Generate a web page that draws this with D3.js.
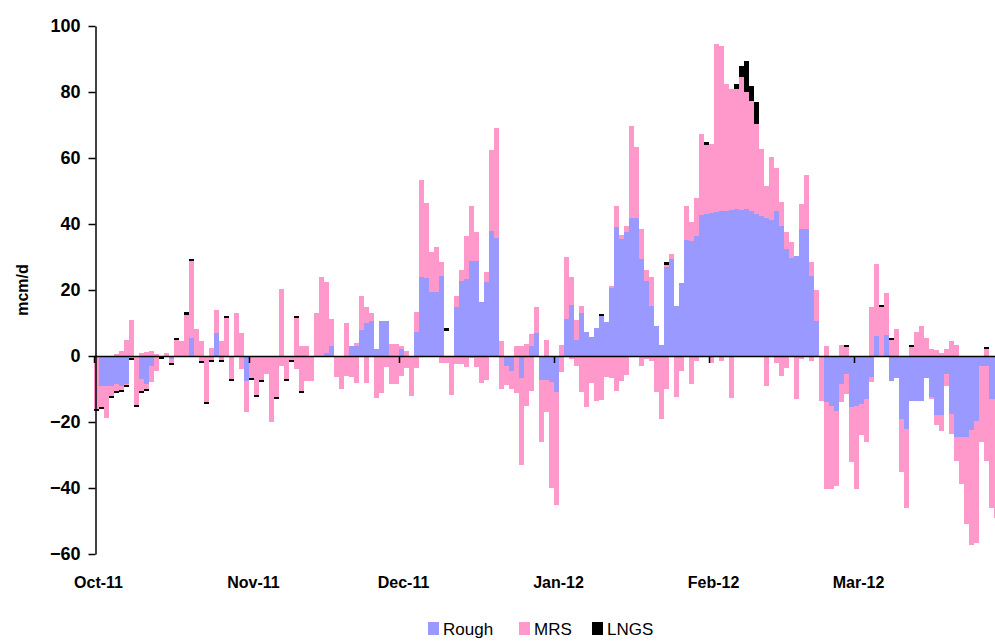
<!DOCTYPE html>
<html>
<head>
<meta charset="utf-8">
<script src="https://cdn.jsdelivr.net/npm/d3@7"></script>
<style>
body { margin: 0; background: #fff; }
svg { display: block; font-family: "Liberation Sans", Arial, sans-serif; }
</style>
</head>
<body>
<div id="chart"></div>
<script>
// daily values, 1 Oct 2011 .. 31 Mar 2012 (mcm/d)
var rough = [
    // Oct
    0,-9,-9,-9,-8.5,-9,-8.5,0,0,-7, -8.5,-3,0,0,0,-1,0,0,0,5.5, 0,0,0,0,7,0,0,0,0,0, -7.5,
    // Nov
    0,0,0,0,0,0,0,0,0,0, 0,0,0,0,0,1,3,0,0,0, 3,3,8,10,10.7,2,10.7,10.7,0,0,
    // Dec
    2,0,0,7.4,23.8,23.5,19.3,19.3,24.3,0, 0,15,22.8,23.3,28.9,28.9,16.5,22.5,38,35.7, 0,-3,-4.4,0,-6.8,0,3,6.9,-7.2,-7.2, -8,
    // Jan
    -11,0,11.2,15.5,5,13,7.3,5.9,8.4,12, 10.2,20.5,39,35.5,37.5,41.7,41.7,29.4,22.8,15.3, 9.2,3.4,26.9,29.4,15.3,22,35.3,35,36.3,42.7, 43,
    // Feb
    43.2,43.5,43.8,44,44.2,44.4,44.2,44.6,44,43, 42.5,41.7,41.3,44,39.5,32.4,29.6,30.4,38.5,38.5, 24.3,10.7,0,-14,-15,-16.6,-8.5,-5.5,-15.6,
    // Mar
    -15,-14.5,-13,-6.5,6,0,6.4,-7.5,-6.8,-19, -22,-13.7,-13.7,-13.7,-6.8,-12.5,-18,-18,-5.5,-17.6, -24.6,-24.6,-24.6,-22.3,-19.6,-3,-3,-13,-13,-13, -13
]
var mrsIn = [
    0,0,0,0,0.5,1.5,5,11,0,1, 1.2,1.5,0.5,0,1,0,4.8,4.5,12.5,23.2, 8.3,4.5,0,2.5,7,4.5,11.5,0,13,7, 0,
    0,0,0,0,0,0,20.3,0,0,11.5, 3,3,0,13,23.8,21.3,8.2,0,0,10, 0,1,10.3,5,2.3,0,0,0,3.6,3.5,
    1,1.6,0,6,29.6,22.9,12.1,13.7,4.3,0, 0,3.3,3.4,13.2,16.6,8.6,0,2.9,24.5,33.3, 4.4,0,0,3,3,3.5,3.7,8.1,0,4.9, 0,
    0,3.4,18.8,8.3,6,2.3,0,0,0,0, 0,0.8,6.6,1.2,2,27.9,21.7,9.1,3.4,8.5, 0,0,0.8,1.6,0,0,10.3,5.7,11.6,24.6, 21,
    21,51,50.2,38.4,36.8,36.5,40.2,35.4,33.4,27.3, 20.2,9.9,18.9,12.9,7.1,5.1,4.8,0,7.5,16.5, 4.3,9.3,0,3,0,0,3.3,2.7,0,
    0,0,0,14.7,22,14.8,12.6,4.8,8.2,0, 0,2.7,7.2,9.2,5.4,2,1.8,1,2,4.4, 3.3,0,0,0,0,0,2,0,0,0, 0
]
var mrsOut = [
    -16,-6.4,-9.8,-3.2,-2.1,-1.2,-0.2,-0.5,-14.9,-3.7, -1.5,-5,-4.5,-0.2,-0.3,-1.1,0,-0.3,0,0, 0,-1.5,-14,-1.1,0,-1.1,0,-7.1,0,-4, -9.5,
    -6.6,-11.9,-7.4,-5.5,-20,-12.5,-3,-6.9,-1.2,-4, -10.6,-7.7,-7.7,0,0,0,0,-6.5,-10,-6, -6.5,-8.2,0,-8.2,0,-12.7,-11.2,-3.4,-8.5,-8.5,
    -6,-3.7,-12.2,-3.7,0,0,0,0,-2,-2, -11.8,-2.4,-2.4,-3.4,-0.5,-3.4,-8.2,-7.2,0,0, -10,-5.8,-5.6,-11.2,-26.2,-15,-10.5,0,-18.8,-9.8, -32,
    -34,-4.7,0,-1,-3,-10.8,-15.5,-8.2,-13.5,-13.2, -6.5,-6.8,-10.5,-7.5,-5.8,0,0,-3,-1,-1.5, -10.8,-19,-10,0,-12.3,-4.4,0,-8.5,-1.4,0, 0,
    -2,0,-1.4,0,-12.8,0,0,0,0,0, 0,-9,0,-2,-6,-3.7,0,-13,-1,0, -1.4,0,-13.7,-26.3,-25.3,-22.7,-5.5,-6,-16.4,
    -25.3,-9.5,-13,-1.5,0,0,0,0,0,-16.3, -24,0,0,0,0,-0.5,-2.8,-4.6,-3.5,-6, -7.1,-14.2,-26.4,-35,-37,-23,-28.7,-33,-36,-36, -36
]
var lngs = [
    -0.6,-0.6,0,-0.6,-0.6,-0.6,-0.6,-0.6,-0.6,-0.6, -0.6,0,0,-0.6,0,-0.6,0.7,0,0.8,0.7, 0,-0.6,-0.6,-0.6,0,-0.6,0.6,-0.6,0,0, 0,
    -0.6,-0.6,-0.6,0,0,-0.6,0,-0.6,-0.6,0.5, -0.6,0,0,0,0,0,0,0,0,0, 0,0,0,0,0,0,0,0,0,0,
    0,0,0,0,0,0,0,0,0,0.7, 0,0,0,0,0,0,0,0,0,0, 0,0,0,0,0,0,0,0,0,0, 0,
    0,0,0,0,0,0,0,0,0,0.7, 0,0,0,0,0,0,0,0,0,0, 0,0,0.7,0,0,0,0,0,0,0, 0.7,
    0,0,0,0,0,1.5,3.6,9.5,4.5,6.6, 0,0,0,0,0,0,0,0,0,0, 0,0,0,0,0,0,0,0.6,0,
    0,0,0,0,0,0.7,0,0.7,0,0, 0,0.6,0,0,0,0,0,0,0,0, 0,0,0,0,0,0,0.6,0,0,0, 0
]
// empty space under a lone LNGS value (10 Dec)
var blank = d3.range(183).map(function(i){ return i == 70 ? 7.7 : 0 })

var yTicks = [-60,-40,-20,0,20,40,60,80,100]
var legendNames = ['Rough','MRS','LNGS']
var legendColors = ['#9999ff','#ff99cc','#000000']

var width = 995
var height = 641
var left = 94
var dayW = 5

var start = new Date(Date.UTC(2011,9,1))
var days = d3.utcDay.range(start, new Date(Date.UTC(2012,3,1)))

var rows = days.map(function(d,i){
    return {date: d, rough: rough[i], mrsIn: mrsIn[i], mrsOut: mrsOut[i], blank: blank[i], lngs: lngs[i]}
})

var keys = ['rough','mrsIn','mrsOut','blank','lngs']
var colors = {rough:'#9999ff', mrsIn:'#ff99cc', mrsOut:'#ff99cc', blank:'none', lngs:'#000000'}

var stack = d3.stack().keys(keys).offset(d3.stackOffsetDiverging)
var series = stack(rows)

var x = d3.scaleUtc()
    .domain([start, d3.utcDay.offset(start, days.length)])
    .range([left, left + days.length * dayW])
var y = d3.scaleLinear().domain([-60,100]).range([554,26])

var svg = d3.select('#chart')
    .append('svg')
    .attr('width', width)
    .attr('height', height)

svg.append('g')
    .selectAll('g')
    .data(series)
    .enter()
    .append('g')
    .attr('fill', function(s){ return colors[s.key] })
    .selectAll('rect')
    .data(function(s){ return s })
    .enter()
    .append('rect')
    .attr('x', function(d){ return x(d.data.date) })
    .attr('width', function(d){ return x(d3.utcDay.offset(d.data.date,1)) - x(d.data.date) + 0.3 })
    .attr('y', function(d){ return y(Math.max(d[0],d[1])) })
    .attr('height', function(d){ return Math.abs(y(d[0]) - y(d[1])) })
    .attr('shape-rendering','crispEdges')

// month ticks on the zero line
var months = d3.utcMonth.range(start, new Date(Date.UTC(2012,2,2)))
var zeroAxis = svg.append('g')
    .attr('transform','translate(0,' + y(0) + ')')
    .call(d3.axisBottom(x).tickValues(months).tickSize(7).tickSizeOuter(0).tickFormat(''))
zeroAxis.select('.domain').attr('stroke','#000').attr('stroke-width',1.5)
zeroAxis.selectAll('.tick line').attr('stroke','#000').attr('stroke-width',1.5)

// month labels at the bottom
var labelAxis = svg.append('g')
    .attr('transform','translate(4,574)')
    .call(d3.axisBottom(x).tickValues(months).tickSize(0).tickFormat(d3.utcFormat('%b-%y')))
labelAxis.select('.domain').remove()
labelAxis.selectAll('text')
    .attr('font-size', 16)
    .attr('font-weight','bold')
    .attr('fill','#000')
    .attr('font-family','"Liberation Sans", Arial, sans-serif')

var yAxis = svg.append('g')
    .attr('transform','translate(95.5,0)')
    .call(d3.axisLeft(y).tickValues(yTicks).tickSize(7).tickSizeOuter(0).tickPadding(8))
yAxis.select('.domain').attr('stroke','#000').attr('stroke-width',1.5)
yAxis.selectAll('.tick line').attr('stroke','#000').attr('stroke-width',1.5)
yAxis.selectAll('text')
    .attr('font-size', 18)
    .attr('font-weight','bold')
    .attr('fill','#000')
    .attr('font-family','"Liberation Sans", Arial, sans-serif')

svg.append('text')
    .attr('transform','translate(28,290) rotate(-90)')
    .attr('text-anchor','middle')
    .attr('font-size', 16)
    .attr('font-weight','bold')
    .text('mcm/d')

// legend
var legendX = [428, 519, 592]
var legend = svg.append('g')
legend.selectAll('rect')
    .data(legendNames)
    .enter()
    .append('rect')
    .attr('x', function(d,i){ return legendX[i] })
    .attr('y', 622)
    .attr('width', 11)
    .attr('height', 13)
    .style('fill', function(d,i){ return legendColors[i] })
legend.selectAll('text')
    .data(legendNames)
    .enter()
    .append('text')
    .text(function(d){ return d })
    .attr('x', function(d,i){ return legendX[i] + 15 })
    .attr('y', 635)
    .attr('font-size', 17)
    .attr('font-family','"Liberation Sans Narrow", "Liberation Sans", Arial, sans-serif')
</script>
</body>
</html>
